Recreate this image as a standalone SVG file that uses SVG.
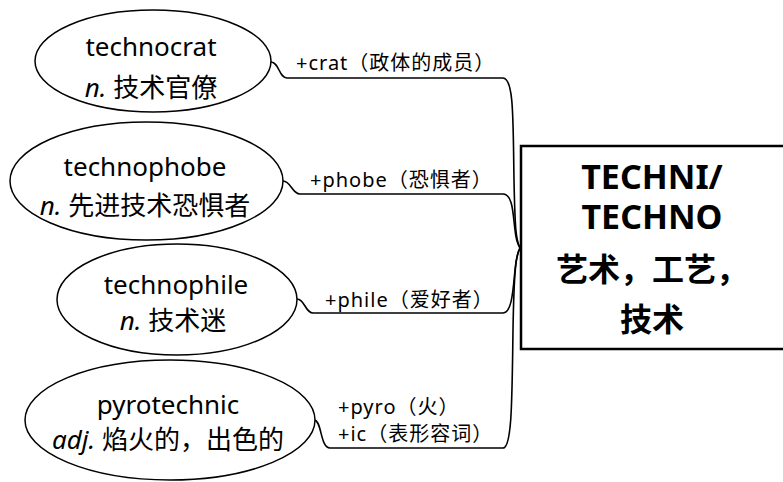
<svg xmlns="http://www.w3.org/2000/svg" width="783" height="482" viewBox="0 0 783 482">
<style>
.el{fill:#fff;stroke:#000;stroke-width:1.5}
.t{font-family:"Noto Sans","Noto Sans CJK SC",sans-serif;font-size:26px;fill:#000;text-anchor:middle}
.i{font-style:italic}
.lb{font-family:"Noto Sans","Noto Sans CJK SC",sans-serif;font-size:20px;letter-spacing:1px;fill:#000}
.c{fill:none;stroke:#000;stroke-width:1.6}
.bx{fill:#fff;stroke:#000;stroke-width:2.5}
.bt{font-family:"Noto Sans","Noto Sans CJK SC",sans-serif;font-size:34px;font-weight:bold;fill:#000;text-anchor:middle}
.bc{font-size:32px}
</style>
<rect width="783" height="482" fill="#fff"/>
<g id="connectors">
<path class="c" d="M271,62 C279,62 279,78 287,78 L503,78 C514,78 513,120 514,180 C515,230 516,240 520,248"/>
<path class="c" d="M283,181 C291,181 292,194 300,194 L503,194 C513,194 513,215 515,230 C516,240 518,245 520,248"/>
<path class="c" d="M297,299 C305,299 305,313 313,313 L503,313 C512,313 513,290 515,270 C516,258 518,252 520,248"/>
<path class="c" d="M314,420 C322,420 320,448 330,448 L503,448 C512,448 512,400 513,330 C514,270 516,255 520,248"/>
</g>
<g id="technocrat">
<ellipse class="el" cx="153" cy="61" rx="118" ry="51"/>
<text class="t" x="151" y="56">technocrat</text>
<text class="t" x="151" y="97"><tspan class="i">n.</tspan> 技术官僚</text>
</g>
<g id="technophobe">
<ellipse class="el" cx="146.5" cy="181" rx="136.5" ry="59"/>
<text class="t" x="145" y="176">technophobe</text>
<text class="t" x="145" y="215"><tspan class="i">n.</tspan> 先进技术恐惧者</text>
</g>
<g id="technophile">
<ellipse class="el" cx="177" cy="299.5" rx="120" ry="55.5"/>
<text class="t" x="176" y="294">technophile</text>
<text class="t" x="173" y="330"><tspan class="i">n.</tspan> 技术迷</text>
</g>
<g id="pyrotechnic">
<ellipse class="el" cx="170" cy="420" rx="145" ry="60"/>
<text class="t" x="168" y="414">pyrotechnic</text>
<text class="t" x="168" y="449"><tspan class="i">adj.</tspan> 焰火的，出色的</text>
</g>
<g id="labels">
<text class="lb" x="296" y="70">+crat（政体的成员）</text>
<text class="lb" x="310" y="187">+phobe（恐惧者）</text>
<text class="lb" x="325" y="307">+phile（爱好者）</text>
<text class="lb" x="338" y="414">+pyro（火）</text>
<text class="lb" x="338" y="441">+ic（表形容词）</text>
</g>
<g id="root">
<rect class="bx" x="521" y="146" width="270" height="203"/>
<text class="bt"><tspan x="652" y="189">TECHNI/</tspan><tspan x="652" y="229">TECHNO</tspan><tspan class="bc" x="652" y="281">艺术，工艺，</tspan><tspan class="bc" x="652" y="331">技术</tspan></text>
</g>
</svg>
